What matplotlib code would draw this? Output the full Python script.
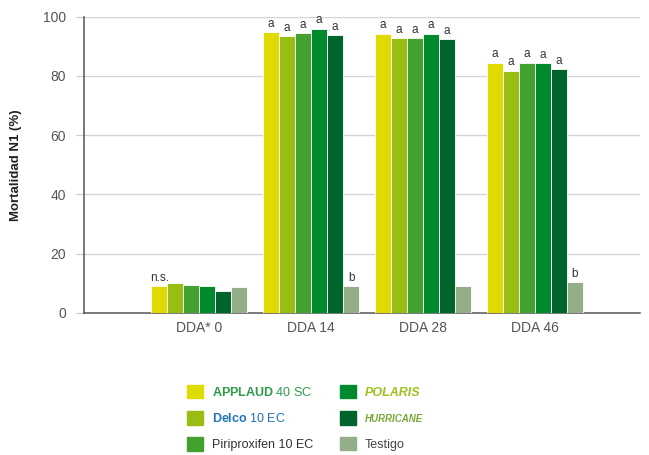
import numpy as np
import matplotlib
matplotlib.use('Agg')
import matplotlib.pyplot as plt
from matplotlib.patches import Patch

plt.rcParams['font.family'] = ['Liberation Sans', 'DejaVu Sans']
plt.rcParams['mathtext.fontset'] = 'custom'
plt.rcParams['mathtext.rm'] = 'Liberation Sans'
plt.rcParams['mathtext.bf'] = 'Liberation Sans:bold'

# datos
grupos = ['DDA* 0', 'DDA 14', 'DDA 28', 'DDA 46']
applaud = [9.0, 94.9, 94.3, 84.5]
delco = [10.0, 93.6, 92.9, 81.8]
piriproxifen = [9.4, 94.6, 92.9, 84.5]
polaris = [9.0, 96.0, 94.3, 84.3]
hurricane = [7.3, 93.9, 92.6, 82.2]
testigo = [8.7, 9.0, 9.0, 10.4]

letras_applaud = ['n.s.', 'a', 'a', 'a']
letras_trat = ['', 'a', 'a', 'a']
letras_testigo = ['', 'b', '', 'b']

series = [applaud, delco, piriproxifen, polaris, hurricane, testigo]
letras = [letras_applaud, letras_trat, letras_trat, letras_trat, letras_trat, letras_testigo]
colores = ['#dfdb00', '#99bd12', '#43a22f', '#008a2e', '#00652d', '#93ae88']

fig = plt.figure(figsize=(6.49, 4.55), dpi=100)
ax = fig.add_axes([84/649, 1-312.7/455, 556/649, 296/455])

x = np.arange(len(grupos))
w = 1/7
for j, (vals, col, let) in enumerate(zip(series, colores, letras)):
    pos = x + (j - 2.5)*w
    ax.bar(pos, vals, w, color=col, edgecolor='white', linewidth=0.6, zorder=3)
    for p, v, l in zip(pos, vals, let):
        if l:
            ax.annotate(l, (p, v), xytext=(0, 1.5), textcoords='offset points',
                        ha='center', va='bottom', fontsize=8.5, color='#333333')

ax.set_xlim(-1.03, 3.94)
ax.set_ylim(0, 100)
ax.set_yticks([0, 20, 40, 60, 80, 100])
ax.set_xticks(x)
ax.set_xticklabels(grupos)
ax.yaxis.grid(True, color='#d4d4d4', linewidth=1, zorder=0)
ax.set_axisbelow(True)
ax.tick_params(axis='y', length=6, color='#c8c8c8', pad=7, labelsize=10, labelcolor='#555555')
ax.tick_params(axis='x', length=0, pad=6, labelsize=10, labelcolor='#555555')
for s in ['top', 'right']:
    ax.spines[s].set_visible(False)
for s in ['left', 'bottom']:
    ax.spines[s].set_color('#555555')
    ax.spines[s].set_linewidth(1.1)

ax.set_ylabel('Mortalidad N1 (%)', fontsize=9.5, fontweight='bold', color='#222222')
ax.yaxis.set_label_coords(-62/556, 0.5)

# leyenda en dos columnas
h1 = [Patch(color=c) for c in colores[:3]]
l1 = [r'$\bf{APPLAUD}$ 40 SC', r'$\bf{Delco}$ 10 EC', 'Piriproxifen 10 EC']
h2 = [Patch(color=c) for c in colores[3:]]
l2 = ['POLARIS', 'HURRICANE', 'Testigo']

kw = dict(frameon=False, fontsize=9, handlelength=1.28, handleheight=1.28,
          handletextpad=0.7, labelspacing=0.98, borderpad=0, borderaxespad=0,
          loc='upper left')
leg1 = fig.legend(h1, l1, bbox_to_anchor=(187/649, 1-385/455), **kw)
leg2 = fig.legend(h2, l2, bbox_to_anchor=(340/649, 1-385/455), **kw)
for t, c in zip(leg1.get_texts(), ['#2e9a4a', '#1f74b8', '#333333']):
    t.set_color(c)
for t, c in zip(leg2.get_texts(), ['#9cc31c', '#7aa83a', '#444444']):
    t.set_color(c)
for t in leg2.get_texts()[:2]:
    t.set_fontweight('bold')
    t.set_fontstyle('italic')
leg2.get_texts()[1].set_fontsize(7)

plt.savefig('out.png', dpi=100)
